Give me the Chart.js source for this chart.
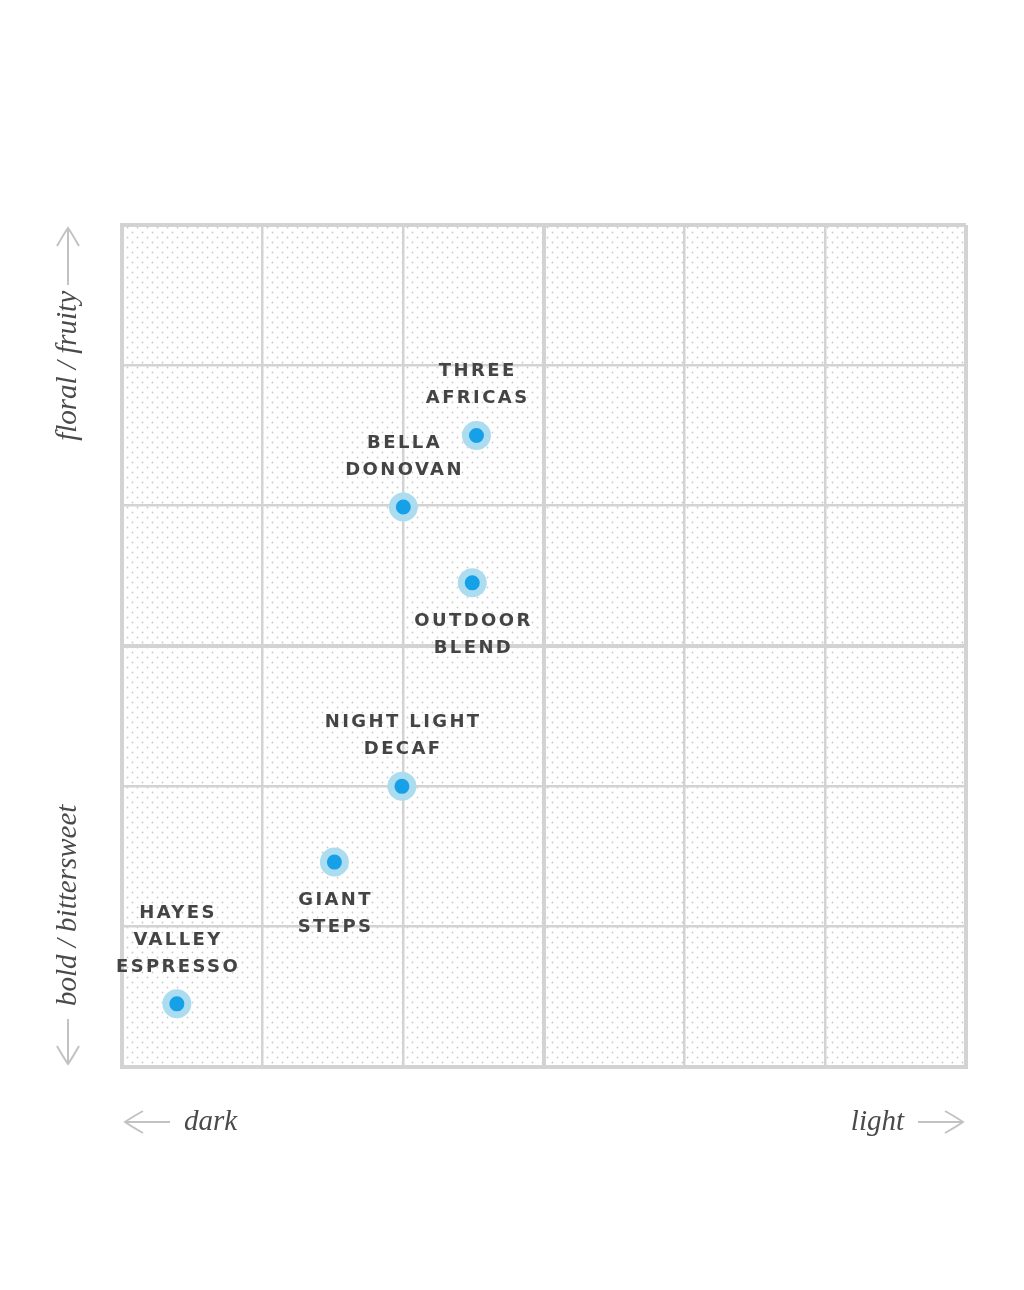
<!DOCTYPE html>
<html>
<head>
<meta charset="utf-8">
<script src="https://cdn.jsdelivr.net/npm/chart.js@4.4.1/dist/chart.umd.min.js"></script>
<style>
  html, body { margin: 0; padding: 0; background: #fff; }
  #wrap { width: 1024px; height: 1290px; }
</style>
</head>
<body>
<div id="wrap"><canvas id="flavorChart" width="1024" height="1290"></canvas></div>
<script>
// coffee names, roast (dark 0 -> light 6), flavor (bold 0 -> floral 6)
const coffees = [
  ["THREE", "AFRICAS"],
  ["BELLA", "DONOVAN"],
  ["OUTDOOR", "BLEND"],
  ["NIGHT LIGHT", "DECAF"],
  ["GIANT", "STEPS"],
  ["HAYES", "VALLEY", "ESPRESSO"]
];
const roast = [2.52, 2.0, 2.49, 1.99, 1.51, 0.39];
const flavor = [4.5, 3.99, 3.45, 2.0, 1.46, 0.45];
const labelSide = ["above", "above", "below", "above", "below", "above"];

const gridTicks = [0, 1, 2, 3, 4, 5, 6];
const axisText = { left: "dark", right: "light", top: "floral / fruity", bottom: "bold / bittersweet" };

/* =========================
   DOT BACKGROUND
========================= */

function makeDotPattern(ctx) {
  const tile = document.createElement("canvas");
  tile.width = 10;
  tile.height = 10;
  const t = tile.getContext("2d");
  t.fillStyle = "#c9c9c9";
  t.beginPath(); t.arc(2.5, 2.5, 0.9, 0, Math.PI * 2); t.fill();
  t.beginPath(); t.arc(7.5, 7.5, 0.9, 0, Math.PI * 2); t.fill();
  return ctx.createPattern(tile, "repeat");
}

const dotBackground = {
  id: "dotBackground",
  beforeDraw(chart) {
    const { ctx, chartArea: a } = chart;
    ctx.save();
    ctx.fillStyle = "#fff";
    ctx.fillRect(0, 0, chart.width, chart.height);
    ctx.fillStyle = makeDotPattern(ctx);
    ctx.fillRect(a.left, a.top, a.right - a.left, a.bottom - a.top);
    ctx.restore();
  }
};

/* =========================
   POINT LABELS
========================= */

const pointLabels = {
  id: "pointLabels",
  afterDatasetsDraw(chart) {
    const { ctx } = chart;
    const meta = chart.getDatasetMeta(0);
    ctx.save();
    ctx.font = "bold 18px 'DejaVu Sans'";
    ctx.letterSpacing = "2.4px";
    ctx.fillStyle = "#444";
    ctx.textAlign = "center";
    ctx.textBaseline = "middle";
    meta.data.forEach((pt, i) => {
      const lines = coffees[i];
      const lh = 27;
      lines.forEach((line, j) => {
        let y;
        if (labelSide[i] === "above") {
          y = pt.y - 37 - (lines.length - 1 - j) * lh;
        } else {
          y = pt.y + 38 + j * lh;
        }
        ctx.fillText(line, pt.x + 1.2, y);
      });
    });
    ctx.restore();
  }
};

/* =========================
   AXIS TITLES + ARROWS
========================= */

function arrowHead(ctx, x, y, dir) {
  // dir: unit vector the arrow points to
  const [dx, dy] = dir;
  const px = -dy, py = dx;
  ctx.beginPath();
  ctx.moveTo(x - dx * 18 + px * 11, y - dy * 18 + py * 11);
  ctx.quadraticCurveTo(x - dx * 4 + px * 3, y - dy * 4 + py * 3, x, y);
  ctx.quadraticCurveTo(x - dx * 4 - px * 3, y - dy * 4 - py * 3, x - dx * 18 - px * 11, y - dy * 18 - py * 11);
  ctx.stroke();
}

function arrow(ctx, x1, y1, x2, y2) {
  const len = Math.hypot(x2 - x1, y2 - y1);
  ctx.beginPath();
  ctx.moveTo(x1, y1);
  ctx.lineTo(x2, y2);
  ctx.stroke();
  arrowHead(ctx, x2, y2, [(x2 - x1) / len, (y2 - y1) / len]);
}

const axisTitles = {
  id: "axisTitles",
  afterDraw(chart) {
    const { ctx, chartArea: a } = chart;
    ctx.save();
    ctx.strokeStyle = "#c2c2c2";
    ctx.lineWidth = 2;
    ctx.fillStyle = "#4a4a4a";
    ctx.font = "italic 29px 'Liberation Serif'";
    ctx.textBaseline = "middle";

    // horizontal
    const hy = a.bottom + 55;
    arrow(ctx, a.left + 48, hy, a.left + 3, hy);
    ctx.textAlign = "left";
    ctx.fillText(axisText.left, a.left + 62, hy);
    arrow(ctx, a.right - 48, hy, a.right - 3, hy);
    ctx.textAlign = "right";
    ctx.fillText(axisText.right, a.right - 62, hy);

    // vertical
    const vx = a.left - 54;
    arrow(ctx, vx, a.top + 60, vx, a.top + 3);
    arrow(ctx, vx, a.bottom - 48, vx, a.bottom - 3);
    ctx.translate(vx, 0);
    ctx.rotate(-Math.PI / 2);
    ctx.textAlign = "right";
    ctx.fillText(axisText.top, -(a.top + 66), 0);
    ctx.textAlign = "left";
    ctx.fillText(axisText.bottom, -(a.bottom - 61), 0);
    ctx.restore();
  }
};

/* =========================
   CHART
========================= */

function gridWidth(c) {
  const v = c.tick ? c.tick.value : 0;
  if (v === 3 || v === 0 || v === 6) return 4;
  return 2.5;
}

const gridOpts = {
  color: "#d3d3d3",
  lineWidth: gridWidth,
  drawTicks: false
};

new Chart(document.getElementById("flavorChart"), {
  type: "scatter",
  data: {
    datasets: [{
      data: roast.map((x, i) => ({ x, y: flavor[i] })),
      pointRadius: 11,
      pointHoverRadius: 11,
      pointBorderWidth: 7,
      pointBackgroundColor: "#16a0e8",
      pointBorderColor: "#acdcf0"
    }]
  },
  options: {
    responsive: false,
    animation: false,
    events: [],
    layout: { padding: { left: 122, right: 58, top: 225, bottom: 223 } },
    plugins: { legend: { display: false }, tooltip: { enabled: false } },
    scales: {
      x: {
        min: gridTicks[0],
        max: gridTicks[gridTicks.length - 1],
        afterBuildTicks: s => { s.ticks = gridTicks.map(v => ({ value: v })); },
        ticks: { display: false },
        grid: gridOpts,
        border: { display: true, color: "#d3d3d3", width: 4 }
      },
      y: {
        min: gridTicks[0],
        max: gridTicks[gridTicks.length - 1],
        afterBuildTicks: s => { s.ticks = gridTicks.map(v => ({ value: v })); },
        ticks: { display: false },
        grid: gridOpts,
        border: { display: true, color: "#d3d3d3", width: 4 }
      }
    }
  },
  plugins: [dotBackground, pointLabels, axisTitles]
});
</script>
</body>
</html>
